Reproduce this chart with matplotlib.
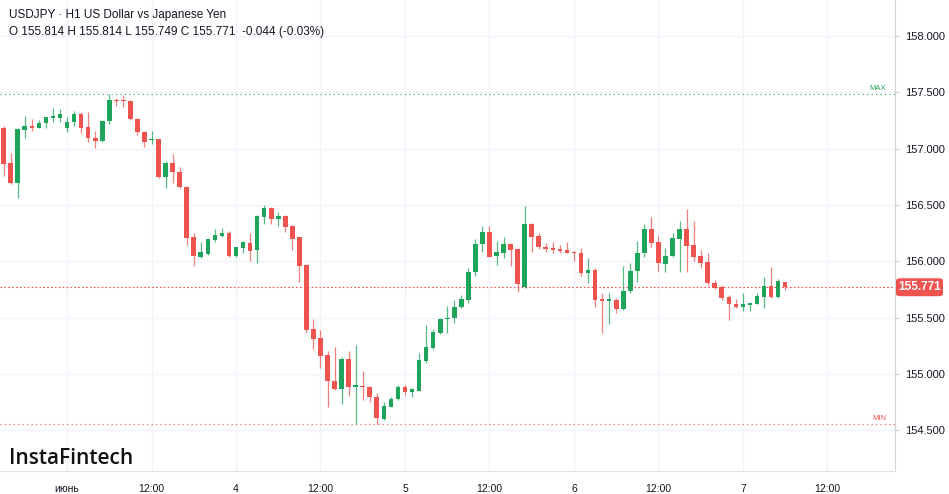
import matplotlib
matplotlib.use("Agg")
import matplotlib.pyplot as plt
from matplotlib.patches import FancyBboxPatch

# CONFIG
OUT_FILE = "out.png"
UP_COLOR = "#1fa55b"
DOWN_COLOR = "#ef5350"
GRID_COLOR = "#f0f3fa"
AXIS_COLOR = "#d1d4dc"
TEXT_COLOR = "#131722"

plt.rcParams["font.family"] = ["Liberation Sans", "DejaVu Sans"]

# hourly candles, USDJPY
opens = [157.181, 156.870, 156.698, 157.166, 157.204, 157.186, 157.231, 157.275, 157.275, 157.181,
         157.240, 157.308, 157.190, 157.098, 157.068, 157.246, 157.432, 157.429, 157.426, 157.266,
         157.146, 157.075, 157.083, 156.746, 156.870, 156.793, 156.658, 156.214, 156.042, 156.066,
         156.190, 156.228, 156.252, 156.051, 156.116, 156.166, 156.101, 156.397, 156.474, 156.379,
         156.403, 156.314, 156.214, 155.968, 155.398, 155.318, 155.170, 154.941, 154.868, 155.134,
         154.888, 154.897, 154.883, 154.794, 154.604, 154.711, 154.779, 154.888, 154.839, 154.853,
         155.119, 155.234, 155.367, 155.486, 155.495, 155.593, 155.658, 155.906, 156.152, 156.261,
         156.048, 156.077, 156.154, 156.107, 155.776, 156.332, 156.225, 156.130, 156.116, 156.110,
         156.101, 156.086, 156.072, 155.894, 155.924, 155.664, 155.651, 155.658, 155.575, 155.740,
         155.918, 156.072, 156.290, 156.172, 155.974, 156.048, 156.199, 156.290, 156.146, 156.048,
         155.995, 155.811, 155.776, 155.684, 155.619, 155.598, 155.616, 155.625, 155.687, 155.784,
         155.681, 155.814]
highs = [157.201, 156.959, 157.184, 157.290, 157.261, 157.255, 157.284, 157.358, 157.352, 157.279,
         157.335, 157.328, 157.323, 157.160, 157.255, 157.483, 157.447, 157.476, 157.432, 157.277,
         157.153, 157.160, 157.090, 156.894, 156.953, 156.840, 156.665, 156.249, 156.170, 156.203,
         156.285, 156.299, 156.270, 156.132, 156.181, 156.249, 156.411, 156.500, 156.483, 156.436,
         156.411, 156.323, 156.221, 155.977, 155.486, 155.391, 155.205, 155.238, 155.154, 155.205,
         155.258, 155.030, 154.890, 154.835, 154.755, 154.800, 154.903, 154.903, 154.877, 155.190,
         155.436, 155.398, 155.498, 155.604, 155.658, 155.702, 155.944, 156.196, 156.314, 156.314,
         156.178, 156.219, 156.163, 156.115, 156.492, 156.341, 156.249, 156.166, 156.170, 156.146,
         156.170, 156.092, 156.122, 156.028, 155.939, 155.722, 155.722, 155.675, 155.959, 155.983,
         156.184, 156.329, 156.397, 156.225, 156.116, 156.249, 156.356, 156.462, 156.361, 156.101,
         156.072, 155.835, 155.791, 155.702, 155.666, 155.717, 155.634, 155.722, 155.859, 155.948,
         155.841, 155.814]
lows = [156.760, 156.684, 156.565, 157.092, 157.157, 157.181, 157.181, 157.240, 157.234, 157.151,
        157.204, 157.137, 157.057, 157.009, 157.062, 157.217, 157.381, 157.373, 157.255, 157.122,
        157.012, 157.039, 156.744, 156.649, 156.693, 156.651, 156.146, 155.959, 156.028, 156.057,
        156.175, 156.219, 156.042, 156.042, 156.077, 156.001, 155.989, 156.329, 156.329, 156.314,
        156.264, 156.101, 155.815, 155.367, 155.223, 155.052, 154.711, 154.859, 154.732, 154.808,
        154.557, 154.770, 154.750, 154.557, 154.597, 154.704, 154.770, 154.815, 154.800, 154.846,
        155.101, 155.227, 155.360, 155.367, 155.456, 155.587, 155.628, 155.871, 156.086, 156.035,
        155.968, 156.028, 155.962, 155.731, 155.761, 156.086, 156.107, 156.081, 156.077, 156.075,
        156.072, 156.006, 155.871, 155.811, 155.598, 155.367, 155.442, 155.539, 155.569, 155.722,
        155.820, 156.036, 156.125, 155.918, 155.903, 156.039, 155.909, 155.909, 156.006, 155.939,
        155.791, 155.755, 155.658, 155.480, 155.584, 155.563, 155.560, 155.622, 155.589, 155.675,
        155.675, 155.749]
closes = [156.862, 156.698, 157.172, 157.201, 157.186, 157.231, 157.279, 157.284, 157.305, 157.240,
          157.305, 157.186, 157.092, 157.071, 157.248, 157.432, 157.423, 157.421, 157.264, 157.151,
          157.057, 157.086, 156.752, 156.876, 156.791, 156.658, 156.208, 156.048, 156.083, 156.196,
          156.234, 156.252, 156.051, 156.125, 156.172, 156.095, 156.403, 156.474, 156.379, 156.403,
          156.303, 156.199, 155.959, 155.391, 155.312, 155.161, 154.939, 154.868, 155.134, 154.888,
          154.901, 154.883, 154.794, 154.608, 154.720, 154.779, 154.888, 154.839, 154.871, 155.125,
          155.238, 155.376, 155.492, 155.500, 155.595, 155.664, 155.909, 156.152, 156.261, 156.042,
          156.083, 156.154, 156.101, 155.800, 156.332, 156.214, 156.130, 156.110, 156.101, 156.092,
          156.077, 156.072, 155.894, 155.924, 155.658, 155.651, 155.664, 155.575, 155.740, 155.918,
          156.077, 156.290, 156.166, 155.983, 156.051, 156.205, 156.290, 156.139, 156.036, 155.989,
          155.811, 155.767, 155.678, 155.619, 155.598, 155.619, 155.625, 155.693, 155.784, 155.681,
          155.826, 155.771]

# time axis (candle index of each label)
tick_pos = [9, 21, 33, 45, 57, 69, 81, 93, 105, 117]
tick_labels = ["июнь", "12:00", "4", "12:00", "5", "12:00", "6", "12:00", "7", "12:00"]
price_ticks = [154.5, 155.0, 155.5, 156.0, 156.5, 157.0, 157.5, 158.0]

header_1 = "USDJPY · H1 US Dollar vs Japanese Yen"
header_2 = "O 155.814 H 155.814 L 155.749 C 155.771  -0.044 (-0.03%)"


def plot():
    fig = plt.figure(figsize=(9.49, 4.94), dpi=100)
    ax = fig.add_axes([0, 23 / 494, 895 / 949, 471 / 494])

    n = len(opens)
    xs = list(range(n))
    colors = [UP_COLOR if c >= o else DOWN_COLOR for o, c in zip(opens, closes)]

    # wicks
    ax.vlines(xs, lows, highs, colors=colors, linewidth=0.9, alpha=0.75, zorder=3)

    # bodies (keep dojis visible)
    bottoms = [min(o, c) for o, c in zip(opens, closes)]
    heights = [max(abs(c - o), 0.012) for o, c in zip(opens, closes)]
    ax.bar(xs, heights, bottom=bottoms, width=0.66, color=colors, linewidth=0, zorder=4)

    # max / min / last price lines
    hi = max(highs)
    lo = min(lows)
    last = closes[-1]
    ax.axhline(hi, color=UP_COLOR, linestyle=(0, (1, 3)), linewidth=0.8, zorder=2)
    ax.axhline(lo, color=DOWN_COLOR, linestyle=(0, (1, 3)), linewidth=0.8, zorder=2)
    ax.axhline(last, color=DOWN_COLOR, linestyle=(0, (1.5, 2)), linewidth=0.8, zorder=2)
    ax.text(0.99, hi + 0.02, "MAX", transform=ax.get_yaxis_transform(), ha="right",
            va="bottom", fontsize=5.5, color=UP_COLOR)
    ax.text(0.99, lo + 0.02, "MIN", transform=ax.get_yaxis_transform(), ha="right",
            va="bottom", fontsize=5.5, color=DOWN_COLOR)

    # axes range
    ax.set_xlim(-0.52, 126.6)
    ax.set_ylim(154.14, 158.32)

    # grid
    ax.set_xticks(tick_pos)
    ax.set_xticklabels(tick_labels)
    ax.set_yticks(price_ticks)
    ax.set_yticklabels([f"{p:.3f}" for p in price_ticks])
    ax.grid(True, color=GRID_COLOR, linewidth=1.0, zorder=0)
    ax.set_axisbelow(True)

    # axis formatting
    for side in ["top", "left"]:
        ax.spines[side].set_visible(False)
    ax.spines["bottom"].set_color("#e0e3eb")
    ax.spines["right"].set_color(AXIS_COLOR)
    ax.yaxis.tick_right()
    ax.tick_params(axis="y", length=3, color=AXIS_COLOR, pad=4, labelsize=8,
                   labelcolor=TEXT_COLOR)
    ax.tick_params(axis="x", length=0, pad=9, labelsize=7.5, labelcolor=TEXT_COLOR)

    # last price tag
    tag_y = ax.transData.transform((0, last))[1] / fig.bbox.height
    tag = FancyBboxPatch((896 / 949, tag_y - 9 / 494), 47 / 949, 18 / 494,
                         boxstyle="round,pad=0,rounding_size=0.005",
                         transform=fig.transFigure, facecolor=DOWN_COLOR,
                         edgecolor="none", zorder=5)
    fig.patches.append(tag)
    fig.text(919.5 / 949, tag_y, f"{last:.3f}", ha="center", va="center",
             fontsize=8.5, color="white", fontweight="bold", zorder=10)

    # header
    fig.text(9 / 949, 1 - 15 / 494, header_1, ha="left", va="center", fontsize=8.5,
             color=TEXT_COLOR)
    fig.text(9 / 949, 1 - 31.5 / 494, header_2, ha="left", va="center", fontsize=8.5,
             color=TEXT_COLOR)

    # logo
    fig.text(9 / 949, 1 - 464 / 494, "InstaFintech", ha="left", va="baseline",
             fontsize=15, color="#111111", family="Open Sans", fontweight="semibold")

    fig.savefig(OUT_FILE, dpi=100)
    print(f"Success: chart saved as '{OUT_FILE}'")


if __name__ == "__main__":
    plot()
